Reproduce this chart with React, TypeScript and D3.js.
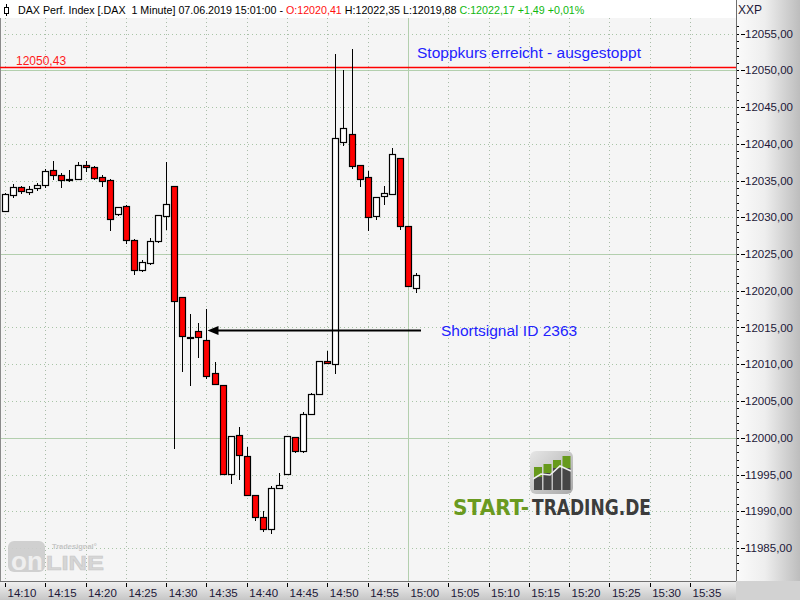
import React from 'react';
import * as d3 from 'd3';

// ---- data ----
const candleTimes = [
  '14:10','14:11','14:12','14:13','14:14','14:15','14:16','14:17','14:18','14:19',
  '14:20','14:21','14:22','14:23','14:24','14:25','14:26','14:27','14:28','14:29',
  '14:30','14:31','14:32','14:33','14:34','14:35','14:36','14:37','14:38','14:39',
  '14:40','14:41','14:42','14:43','14:44','14:45','14:46','14:47','14:48','14:49',
  '14:50','14:51','14:52','14:53','14:54','14:55','14:56','14:57','14:58','14:59',
  '15:00','15:01'
];
const opens = [
  12030.9, 12032.95, 12034.1, 12033.5, 12033.9, 12034.3, 12036.4, 12035.75, 12035.15, 12035.15,
  12037.1, 12036.85, 12035.5, 12035.1, 12030.35, 12031.55, 12026.9, 12022.75, 12023.8, 12026.7,
  12030.2, 12034.25, 12019.2, 12013.65, 12014.5, 12013.3, 12008.8, 12007.15, 11995.05, 12000.35,
  11997.55, 11992.2, 11989.2, 11987.55, 11993.15, 11995.05, 12000.1, 11998.15, 12003.2, 12006.0,
  12010.45, 12009.95, 12040.25, 12041.35, 12037.1, 12035.45, 12030.1, 12032.9, 12033.15, 12038.05,
  12028.8, 12020.41
];
const highs = [
  12033.3, 12034.5, 12034.2, 12034.2, 12034.7, 12036.5, 12037.7, 12036.05, 12036.45, 12037.5,
  12037.65, 12036.95, 12035.7, 12035.25, 12031.35, 12031.7, 12027.05, 12024.2, 12027.15, 12030.3,
  12037.45, 12034.25, 12019.2, 12016.85, 12015.6, 12017.5, 12010.35, 12007.15, 12000.25, 12001.4,
  11998.8, 11992.2, 11990.0, 11993.4, 11995.2, 12000.25, 12000.1, 12003.45, 12006.1, 12010.5,
  12011.85, 12052.2, 12050.05, 12052.9, 12037.1, 12036.3, 12032.7, 12034.25, 12039.4, 12038.05,
  12028.8, 12022.35
];
const lows = [
  12030.8, 12032.7, 12033.35, 12033.2, 12033.7, 12034.15, 12035.25, 12034.15, 12035.0, 12035.15,
  12036.35, 12035.25, 12034.3, 12028.2, 12030.35, 12026.5, 12022.3, 12022.75, 12023.65, 12026.7,
  12028.4, 11998.6, 12009.1, 12007.2, 12011.05, 12008.1, 12007.3, 11995.05, 11993.85, 11994.4,
  11992.2, 11988.75, 11987.25, 11987.1, 11993.15, 11995.05, 11998.0, 11998.0, 12003.2, 12006.0,
  12010.15, 12008.8, 12039.85, 12036.65, 12034.3, 12028.2, 12029.8, 12031.8, 12033.15, 12028.35,
  12020.65, 12019.88
];
const closes = [
  12033.2, 12034.1, 12033.5, 12033.9, 12034.35, 12036.25, 12035.7, 12035.05, 12035.0, 12037.1,
  12036.8, 12035.4, 12035.0, 12029.8, 12031.35, 12026.9, 12022.8, 12023.9, 12026.8, 12030.3,
  12031.8, 12018.55, 12013.95, 12013.55, 12013.7, 12008.35, 12007.3, 11995.05, 12000.25, 11997.65,
  11992.2, 11989.2, 11987.55, 11993.15, 11993.55, 12000.25, 11998.15, 12003.2, 12005.9, 12010.45,
  12010.15, 12040.75, 12042.15, 12037.0, 12035.15, 12030.0, 12032.7, 12033.35, 12038.6, 12028.8,
  12020.65, 12022.17
];
const timeTicks = ['14:10','14:15','14:20','14:25','14:30','14:35','14:40','14:45','14:50','14:55','15:00','15:05','15:10','15:15','15:20','15:25','15:30','15:35'];
const priceTicks = [11985, 11990, 11995, 12000, 12005, 12010, 12015, 12020, 12025, 12030, 12035, 12040, 12045, 12050, 12055];
const solidPriceLines = [12000, 12025, 12050];
const solidTimeLines = ['15:00'];
const stopLevel = 12050.43;
const arrowLevel = 12014.65;
const arrowFrom = '14:35';
const arrowTo = '15:01';

const toMin = (t: string) => { const [h, m] = t.split(':').map(Number); return h * 60 + m; };
const fmt = (v: number) => v.toFixed(2).replace('.', ',');

export default function App() {
  const W = 800, H = 600;
  const plotRight = 736, plotTop = 18, plotBottom = 581;
  const x = d3.scaleLinear().domain([toMin('14:10'), toMin('15:35')]).range([5, 690]);
  const y = d3.scaleLinear().domain([11985, 12055]).range([548, 33.5]);
  const minorTicks = d3.range(11982, 12058, 1).filter(v => y(v) > plotTop + 4 && y(v) < plotBottom - 1);
  const font = "'Liberation Sans', Arial, sans-serif";
  const snap = (v: number) => Math.round(v) + 0.5;

  const arrowY = snap(y(arrowLevel));
  const ax0 = x(toMin(arrowFrom)) + 1;
  const ax1 = x(toMin(arrowTo)) + 5;

  return (
    <div style={{ position: 'fixed', left: 0, top: 0 }}>
      <svg width={W} height={H} style={{ display: 'block' }} xmlns="http://www.w3.org/2000/svg">
        <defs>
          <linearGradient id="rAxis" x1="0" x2="1" y1="0" y2="0">
            <stop offset="0" stopColor="#fbfbfb" />
            <stop offset="0.45" stopColor="#eeeeee" />
            <stop offset="1" stopColor="#bdbdbd" />
          </linearGradient>
          <linearGradient id="bAxis" x1="0" x2="0" y1="0" y2="1">
            <stop offset="0" stopColor="#f2f2f2" />
            <stop offset="1" stopColor="#c6c6c6" />
          </linearGradient>
          <linearGradient id="icon" x1="0" x2="1" y1="0" y2="1">
            <stop offset="0" stopColor="#e6e6e6" />
            <stop offset="1" stopColor="#a9a9a9" />
          </linearGradient>
        </defs>
        <rect x={0} y={0} width={W} height={H} fill="#f5f5f5" />
        {/* right axis panel */}
        <rect x={plotRight} y={0} width={W - plotRight} height={plotBottom} fill="url(#rAxis)" />
        {/* bottom axis panel */}
        <rect x={0} y={plotBottom} width={plotRight} height={H - plotBottom} fill="url(#bAxis)" />
        <rect x={plotRight} y={plotBottom} width={W - plotRight} height={H - plotBottom} fill="#d2d2d2" />

        {/* grid */}
        {priceTicks.map(v => solidPriceLines.includes(v) ? (
          <line key={'h' + v} x1={0} x2={plotRight} y1={snap(y(v))} y2={snap(y(v))} stroke="#b3cfae" strokeWidth={1} />
        ) : (
          <line key={'h' + v} x1={0} x2={plotRight} y1={snap(y(v))} y2={snap(y(v))} stroke="#a8c4a6" strokeWidth={1} strokeDasharray="1 3" />
        ))}
        {timeTicks.map(t => solidTimeLines.includes(t) ? (
          <line key={'v' + t} x1={snap(x(toMin(t)))} x2={snap(x(toMin(t)))} y1={plotTop} y2={plotBottom} stroke="#b3cfae" strokeWidth={1} />
        ) : (
          <line key={'v' + t} x1={snap(x(toMin(t)))} x2={snap(x(toMin(t)))} y1={plotTop} y2={plotBottom} stroke="#a9bca8" strokeWidth={1} strokeDasharray="1 3" />
        ))}

        {/* header */}
        <rect x={0} y={0} width={plotRight} height={plotTop} fill="#ffffff" />
        <line x1={6.5} x2={6.5} y1={4} y2={16} stroke="#000" strokeWidth={1} />
        <rect x={4.5} y={7.5} width={4} height={6} fill="#fff" stroke="#000" strokeWidth={1} />
        <text x={18} y={13.5} fontSize={10.7} fontFamily={font} style={{ whiteSpace: 'pre' }}>
          <tspan fill="#000">{'DAX Perf. Index [.DAX  1 Minute] 07.06.2019 15:01:00 - '}</tspan>
          <tspan fill="#ff1010">O:12020,41</tspan>
          <tspan fill="#000">{' H:12022,35 L:12019,88 '}</tspan>
          <tspan fill="#10b810">C:12022,17 +1,49 +0,01%</tspan>
        </text>

        {/* left border */}
        <line x1={0.5} x2={0.5} y1={plotTop} y2={plotBottom} stroke="#8a8a8a" strokeWidth={1} />

        {/* tradesignal logo */}
        <g opacity={0.9}>
          <rect x={8} y={541} width={37} height={31} rx={6} fill="#cdcdcd" />
          <text x={11} y={570} fontSize={26} fontWeight="bold" fontFamily={font} fill="#efefef">on</text>
          <text x={46} y={570} fontSize={21} fontWeight="bold" fontFamily={font} fill="#d3d3d3" stroke="#c4c4c4" strokeWidth={0.6} textLength={58} lengthAdjust="spacingAndGlyphs">LINE</text>
          <text x={52} y={549} fontSize={7.5} fontWeight="bold" fontFamily={font} fill="#c2c2c2">Tradesignal°</text>
        </g>

        {/* start-trading logo */}
        <g>
          <rect x={530} y={451} width={43} height={43} rx={6} fill="url(#icon)" />
          {[
            { x0: 534, top: 467, mid: 477 },
            { x0: 543.5, top: 464, mid: 473 },
            { x0: 553, top: 460, mid: 468 },
            { x0: 562.5, top: 456, mid: 468 },
          ].map((b, i) => (
            <g key={i}>
              <rect x={b.x0} y={b.top} width={8} height={b.mid - b.top} fill="#679a1c" />
              <rect x={b.x0} y={b.mid} width={8} height={490 - b.mid} fill="#464646" />
            </g>
          ))}
          <polyline points="533,479 541,474 550,475 560,466 571,471" fill="none" stroke="#f0f0f0" strokeWidth={1.5} />
          <text x={453} y={515} fontSize={22} fontWeight="bold" fontFamily="'DejaVu Sans', sans-serif" fill="#6a9a1f" textLength={76} lengthAdjust="spacingAndGlyphs">START-</text>
          <text x={532} y={515} fontSize={22} fontWeight="bold" fontFamily="'DejaVu Sans', sans-serif" fill="#3c3c3c" textLength={119} lengthAdjust="spacingAndGlyphs">TRADING.DE</text>
        </g>

        {/* stop line */}
        <line x1={0} x2={plotRight} y1={y(stopLevel) + 0.5} y2={y(stopLevel) + 0.5} stroke="#ff0000" strokeWidth={1.5} />
        <text x={16} y={y(stopLevel) - 2.5} fontSize={12} fontFamily={font} fill="#ff1a1a">{fmt(stopLevel)}</text>
        <text x={417} y={57.5} fontSize={15.5} fontFamily={font} fill="#2222ff">Stoppkurs erreicht - ausgestoppt</text>

        {/* candles */}
        {candleTimes.map((t, i) => {
          const cx = Math.round(x(toMin(t)));
          const o = opens[i], c = closes[i];
          const yTop = y(Math.max(o, c)), yBot = y(Math.min(o, c));
          const bTop = Math.round(yTop) + 0.5;
          const bH = Math.max(1, Math.round(yBot - yTop));
          const up = c > o;
          return (
            <g key={t}>
              <line x1={cx + 0.5} x2={cx + 0.5} y1={Math.round(y(highs[i]))} y2={Math.round(y(lows[i])) + 1} stroke="#000" strokeWidth={1} />
              <rect x={cx - 2.5} y={bTop} width={6} height={bH} fill={up ? '#ffffff' : '#ff0000'} stroke="#000" strokeWidth={1.2} />
            </g>
          );
        })}

        {/* arrow */}
        <line x1={ax0 + 8} x2={ax1} y1={arrowY} y2={arrowY} stroke="#000" strokeWidth={2.2} />
        <path d={`M${ax0},${arrowY} L${ax0 + 11},${arrowY - 4.5} L${ax0 + 11},${arrowY + 4.5} Z`} fill="#000" />
        <text x={441} y={336} fontSize={15.5} fontFamily={font} fill="#2222ff">Shortsignal ID 2363</text>

        {/* right axis */}
        <line x1={plotRight + 0.5} x2={plotRight + 0.5} y1={0} y2={plotBottom} stroke="#6e6e6e" strokeWidth={1} />
        {minorTicks.map(v => (
          <line key={'m' + v} x1={plotRight + 1} x2={plotRight + 3} y1={snap(y(v))} y2={snap(y(v))} stroke="#000" strokeWidth={1} />
        ))}
        {priceTicks.map(v => (
          <g key={'p' + v}>
            <line x1={plotRight + 5} x2={plotRight + 9} y1={snap(y(v))} y2={snap(y(v))} stroke="#000" strokeWidth={1} />
            <text x={745} y={y(v) + 4} fontSize={11.5} fontFamily={font} fill="#1c1838">{fmt(v)}</text>
          </g>
        ))}
        <text x={738} y={14} fontSize={12} fontFamily={font} fill="#1c1838">XXP</text>

        {/* bottom axis */}
        <line x1={0} x2={plotRight} y1={plotBottom + 0.5} y2={plotBottom + 0.5} stroke="#707070" strokeWidth={1} />
        {timeTicks.map(t => (
          <g key={'t' + t}>
            <line x1={snap(x(toMin(t)))} x2={snap(x(toMin(t)))} y1={plotBottom + 2} y2={plotBottom + 6} stroke="#000" strokeWidth={1} />
            <text x={x(toMin(t)) + 2.5} y={597} fontSize={11.5} fontFamily={font} fill="#1c1838">{t}</text>
          </g>
        ))}
      </svg>
    </div>
  );
}
